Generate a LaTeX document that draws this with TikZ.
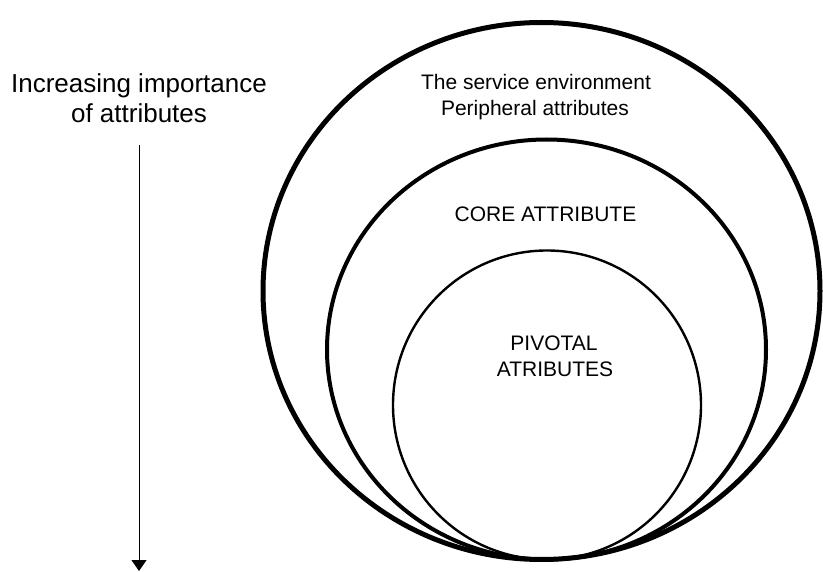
\documentclass[tikz,border=0pt]{standalone}
\usepackage{fontspec}
\setmainfont{Liberation Sans}
\usetikzlibrary{arrows.meta}
\begin{document}
\begin{tikzpicture}[x=1pt,y=-1pt,
  lbl/.style={inner sep=0pt,anchor=base,font=\fontsize{21}{25}\selectfont},
  biglbl/.style={inner sep=0pt,anchor=base,font=\fontsize{26}{30}\selectfont}]
\useasboundingbox (0,0) rectangle (823,572);
% ellipses
\draw[line width=5pt] (541.5,291) ellipse (278.5 and 268.5);
\draw[line width=4pt] (546.5,349.5) ellipse (219.5 and 210);
\draw[line width=2.4pt] (547,405) ellipse (154 and 154.5);
% left text and arrow
\node[biglbl] (inc1) at (139,93) {Increasing importance};
\node[biglbl] (inc2) at (139,123) {of attributes};
\coordinate (atop) at (139,145);
\coordinate (abot) at (139,571);
\draw[line width=1pt,-{Triangle[width=15pt,length=11pt]}] (atop) -- (abot);
% labels
\node[lbl] (svc1) at (536,90) {The service environment};
\node[lbl] (svc2) at (535,115.5) {Peripheral attributes};
\node[lbl] (core) at (545.5,222) {CORE ATTRIBUTE};
\node[lbl] (piv1) at (554,351) {PIVOTAL};
\node[lbl] (piv2) at (555,377) {ATRIBUTES};
\end{tikzpicture}
\end{document}
